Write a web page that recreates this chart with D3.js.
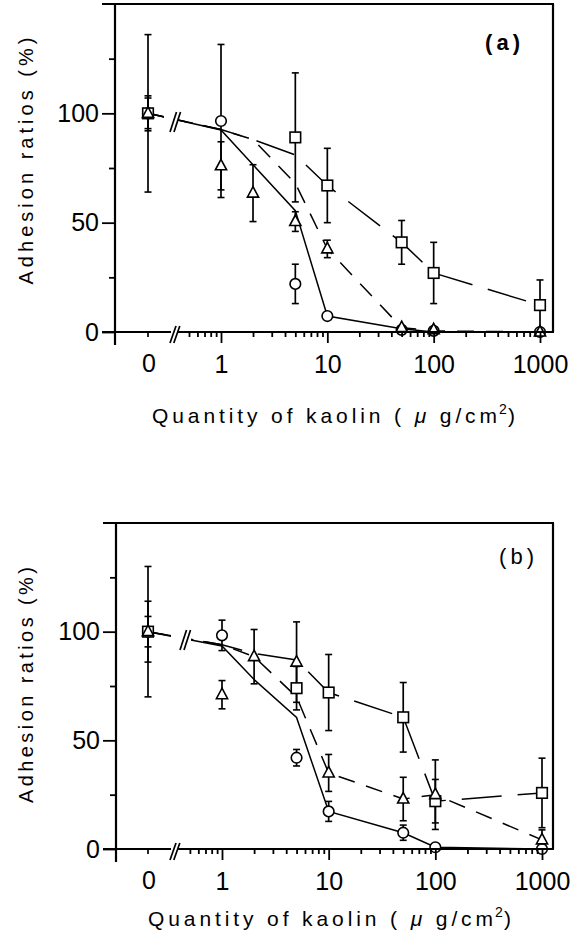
<!doctype html>
<html>
<head>
<meta charset="utf-8">
<script src="https://d3js.org/d3.v7.min.js"></script>
<style>
  body { margin: 0; background: #fff; }
  svg { display: block; }
  text { font-family: "Liberation Sans", Arial, sans-serif; fill: #000; }
</style>
</head>
<body>
<div class="graph"></div>

<script>
// ---- data ----
var yMajor = [0, 50, 100];
var yMinor = [25, 75, 125];
var xMajor = [1, 10, 100, 1000];
var xMinor = [0.5, 0.6, 0.7, 0.8, 0.9, 2, 3, 4, 5, 6, 7, 8, 9,
              20, 30, 40, 50, 60, 70, 80, 90, 200, 300, 400, 500, 600, 700, 800, 900];

// panel (a)
var circleDoseA = [0, 1, 5, 10, 50, 100, 1000];
var circleMeanA = [100, 96.5, 22, 7.3, 1, 0.5, 0];
var circleErrA  = [7, 35, 9, 0, 0, 0, 0];
var triDoseA = [0, 1, 2, 5, 10, 50, 100, 1000];
var triMeanA = [100, 76, 63.5, 50.5, 38, 2, 1, 0];
var triErrA  = [8, 11, 13, 4.5, 4, 0, 0, 0];
var sqDoseA = [0, 5, 10, 50, 100, 1000];
var sqMeanA = [100, 89, 67, 41, 27, 12.3];
var sqErrA  = [36, 29.5, 17, 10, 14, 11.5];

// panel (b)
var circleDoseB = [0, 1, 5, 10, 50, 100, 1000];
var circleMeanB = [100, 98.3, 42, 17.3, 7.5, 0.8, 0];
var circleErrB  = [7, 7, 3.8, 4.6, 3.5, 0, 0];
var triDoseB = [0, 1, 2, 5, 10, 50, 100, 1000];
var triMeanB = [100, 71, 88.5, 86, 35, 23, 25, 4.2];
var triErrB  = [14, 6.5, 12.5, 18.5, 8.5, 10, 16, 4.6];
var sqDoseB = [0, 5, 10, 50, 100, 1000];
var sqMeanB = [100, 74, 72, 60.6, 22, 25.8];
var sqErrB  = [30, 10, 17.5, 16, 10, 16];

// connecting lines
var lineDoses  = [0, 1, 2, 5, 10, 50, 100, 1000];
var solidLineA = [100, 92.4, 76.5, 55.5, 7.3, 1.5, 0, 0];
var dashLineA  = [100, 92.6, 88, 68, 38, 2, 0.5, 0];
var longLineA  = [100, 92.6, 88, 81, 67, 41, 27, 12.3];
var solidLineB = [100, 93.4, 78, 60.5, 17.3, 7.5, 0.8, 0];
var dashLineB  = [100, 94, 88.5, 70, 35, 23, 25, 4.2];
var longLineB  = [100, 94, 90, 87, 72, 60.6, 22, 25.8];

var panels = [
  { name: 'a', label: '(a)', bold: true, top: 4, bottom: 332, left: 115, right: 553, x0: 148,
    logRange: [221, 540], gap: [164, 178], breakX: 170, breakV: 96,
    labelX: 485, labelY: 50, titleX: 152, titleY: 423, yMid: 161, yLen: 247,
    circles: [circleDoseA, circleMeanA, circleErrA],
    tris: [triDoseA, triMeanA, triErrA],
    squares: [sqDoseA, sqMeanA, sqErrA],
    lines: [solidLineA, dashLineA, longLineA] },
  { name: 'b', label: '(b)', bold: false, top: 523, bottom: 849, left: 116, right: 553, x0: 148,
    logRange: [222, 542], gap: [171, 191], breakX: 180, breakV: 96.2,
    labelX: 499, labelY: 564, titleX: 148, titleY: 926, yMid: 685, yLen: 236,
    circles: [circleDoseB, circleMeanB, circleErrB],
    tris: [triDoseB, triMeanB, triErrB],
    squares: [sqDoseB, sqMeanB, sqErrB],
    lines: [solidLineB, dashLineB, longLineB] }
];

var dashes = [null, '17,12', '40,16'];

var svg = d3.select('.graph').append('svg')
  .attr('width', 586).attr('height', 941);

panels.forEach(drawPanel);

function drawPanel(p) {
  var g = svg.append('g');

  var y = d3.scaleLinear().domain([0, 150]).range([p.bottom, p.top]);
  var xl = d3.scaleLog().domain([1, 1000]).range(p.logRange);
  var x = function(d) { return d === 0 ? p.x0 : xl(d); };

  // clip that leaves the break gap open
  var clipId = 'clip-' + p.name;
  var cp = svg.append('defs').append('clipPath').attr('id', clipId);
  cp.append('rect').attr('x', p.left).attr('y', p.top).attr('width', p.gap[0] - p.left).attr('height', p.bottom - p.top);
  cp.append('rect').attr('x', p.gap[1]).attr('y', p.top - 10).attr('width', p.right - p.gap[1] + 10).attr('height', p.bottom - p.top + 20);

  // lines
  var line = d3.line().x(function(d) { return x(d[0]); }).y(function(d) { return y(d[1]); });
  p.lines.forEach(function(vals, k) {
    var pts = lineDoses.map(function(d, i) { return [d, vals[i]]; });
    g.append('path')
      .attr('d', line(pts))
      .attr('clip-path', 'url(#' + clipId + ')')
      .style('fill', 'none')
      .style('stroke', '#000')
      .style('stroke-width', 1.5)
      .style('stroke-dasharray', dashes[k]);
  });

  // break marks on the lines
  var by = y(p.breakV);
  [0, 4].forEach(function(o) {
    g.append('line')
      .attr('x1', p.breakX + o).attr('y1', by + 10)
      .attr('x2', p.breakX + o + 6.5).attr('y2', by - 10)
      .style('stroke', '#000').style('stroke-width', 1.7);
  });

  // error bars
  [p.circles, p.squares, p.tris].forEach(function(s) {
    s[0].forEach(function(d, i) {
      var e = s[2][i];
      if (!e) return;
      var cx = x(d), m = s[1][i];
      g.append('line').attr('x1', cx).attr('x2', cx).attr('y1', y(m + e)).attr('y2', y(Math.max(0, m - e)))
        .style('stroke', '#000').style('stroke-width', 1.7);
      [m + e, m - e].forEach(function(v) {
        if (v < 0) return;
        g.append('line').attr('x1', cx - 3.5).attr('x2', cx + 3.5).attr('y1', y(v)).attr('y2', y(v))
          .style('stroke', '#000').style('stroke-width', 1.6);
      });
    });
  });

  // markers
  var mk = function(sel) {
    return sel.style('fill', '#fff').style('stroke', '#000').style('stroke-width', 1.6);
  };
  p.circles[0].forEach(function(d, i) {
    mk(g.append('circle').attr('cx', x(d)).attr('cy', y(p.circles[1][i])).attr('r', 5.3));
  });
  p.squares[0].forEach(function(d, i) {
    mk(g.append('rect').attr('x', x(d) - 5.3).attr('y', y(p.squares[1][i]) - 5.3).attr('width', 10.6).attr('height', 10.6));
  });
  p.tris[0].forEach(function(d, i) {
    var cx = x(d), cy = y(p.tris[1][i]);
    mk(g.append('path').attr('d', 'M' + cx + ',' + (cy - 6.5) + 'L' + (cx + 5.6) + ',' + (cy + 4) + 'L' + (cx - 5.6) + ',' + (cy + 4) + 'Z'));
  });

  // frame
  var st = function(sel) { return sel.style('stroke', '#000').style('stroke-width', 2.2).style('fill', 'none'); };
  st(g.append('line').attr('x1', p.left - 13).attr('x2', p.right + 1).attr('y1', p.top).attr('y2', p.top));
  st(g.append('line').attr('x1', p.right).attr('x2', p.right).attr('y1', p.top).attr('y2', p.bottom));
  st(g.append('line').attr('x1', p.left).attr('x2', p.left).attr('y1', p.top).attr('y2', p.bottom + 13));
  st(g.append('line').attr('x1', p.left - 13).attr('x2', 171).attr('y1', p.bottom).attr('y2', p.bottom));
  st(g.append('line').attr('x1', 178).attr('x2', p.right + 1).attr('y1', p.bottom).attr('y2', p.bottom));
  [0, 3.8].forEach(function(o) {
    g.append('line')
      .attr('x1', 170 + o).attr('y1', p.bottom + 11)
      .attr('x2', 176 + o).attr('y2', p.bottom - 6)
      .style('stroke', '#000').style('stroke-width', 1.7);
  });

  // y axis
  var yAx = g.append('g').attr('transform', 'translate(' + p.left + ',0)')
    .call(d3.axisLeft(y).tickValues(yMajor).tickSize(13).tickPadding(3).tickSizeOuter(0));
  var yAxMin = g.append('g').attr('transform', 'translate(' + p.left + ',0)')
    .call(d3.axisLeft(y).tickValues(yMinor).tickSize(6).tickFormat('').tickSizeOuter(0));

  // x axis
  var xAx = g.append('g').attr('transform', 'translate(0,' + p.bottom + ')')
    .call(d3.axisBottom(xl).tickValues(xMajor).tickSize(11).tickPadding(12).tickFormat(d3.format('d')).tickSizeOuter(0));
  var xAxMin = g.append('g').attr('transform', 'translate(0,' + p.bottom + ')')
    .call(d3.axisBottom(xl).tickValues(xMinor).tickSize(5).tickFormat('').tickSizeOuter(0));
  g.append('line').attr('x1', p.x0).attr('x2', p.x0).attr('y1', p.bottom).attr('y2', p.bottom + 5)
    .style('stroke', '#000').style('stroke-width', 1.7);
  g.append('text').attr('x', p.x0 + 1).attr('y', p.bottom + 40)
    .attr('text-anchor', 'middle').style('font-size', '25px').text('0');

  [yAx, yAxMin, xAx, xAxMin].forEach(function(a) {
    a.select('.domain').remove();
    a.selectAll('line').style('stroke', '#000').style('stroke-width', 1.8);
    a.selectAll('text').style('font-size', '25px').style('font-family', '"Liberation Sans", Arial, sans-serif').style('fill', '#000');
  });

  // panel label
  g.append('text').attr('x', p.labelX).attr('y', p.labelY)
    .attr('textLength', 35).attr('lengthAdjust', 'spacing')
    .style('font-size', '22px').style('font-weight', p.bold ? 'bold' : 'normal')
    .text(p.label);

  // axis titles
  var xt = g.append('text').attr('x', p.titleX).attr('y', p.titleY)
    .attr('textLength', 345).attr('lengthAdjust', 'spacing')
    .style('font-size', '21px');
  xt.append('tspan').text('Quantity of kaolin ( ');
  xt.append('tspan').style('font-style', 'italic').text('μ');
  xt.append('tspan').text(' g/cm');
  g.append('text').attr('x', p.titleX + 347).attr('y', p.titleY - 9).style('font-size', '14px').text('2');
  g.append('text').attr('x', p.titleX + 356).attr('y', p.titleY).style('font-size', '21px').text(')');

  g.append('text')
    .attr('transform', 'translate(33,' + p.yMid + ') rotate(-90)')
    .attr('text-anchor', 'middle')
    .attr('textLength', p.yLen).attr('lengthAdjust', 'spacing')
    .style('font-size', '20px')
    .text('Adhesion ratios (%)');
}
</script>
</body>
</html>
